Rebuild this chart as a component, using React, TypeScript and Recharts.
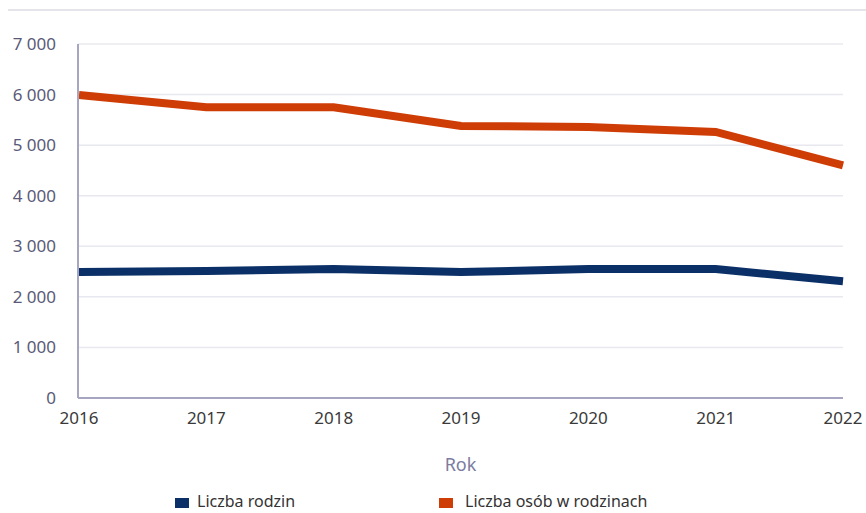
import React from 'react';
import { LineChart, Line, XAxis, YAxis, CartesianGrid, Legend } from 'recharts';

const years = ['2016', '2017', '2018', '2019', '2020', '2021', '2022'];
const liczbaRodzin = [2490, 2510, 2550, 2490, 2550, 2550, 2310];
const liczbaOsob = [5990, 5750, 5750, 5380, 5360, 5260, 4600];
const yTicks = [0, 1000, 2000, 3000, 4000, 5000, 6000, 7000];

const seriesNames = { rodziny: 'Liczba rodzin', osoby: 'Liczba osób w rodzinach' };
const colors = { rodziny: '#0b3067', osoby: '#cf3d06' };

const data = years.map((y, i) => ({ year: y, rodziny: liczbaRodzin[i], osoby: liczbaOsob[i] }));

const fmt = (v: number) => String(v).replace(/\B(?=(\d{3})+(?!\d))/g, ' ');
const FONT = '"Noto Sans", "Open Sans", sans-serif';

const LegendContent = () => (
  <div style={{ position: 'relative', width: 866, height: 30, fontFamily: FONT, fontSize: 16, color: '#333' }}>
    <div style={{ position: 'absolute', left: 175, top: 15, width: 14, height: 10, background: colors.rodziny }} />
    <div style={{ position: 'absolute', left: 197, top: 8, lineHeight: '20px', whiteSpace: 'nowrap' }}>{seriesNames.rodziny}</div>
    <div style={{ position: 'absolute', left: 439, top: 15, width: 14, height: 10, background: colors.osoby }} />
    <div style={{ position: 'absolute', left: 465, top: 8, lineHeight: '20px', whiteSpace: 'nowrap' }}>{seriesNames.osoby}</div>
  </div>
);

export default function App() {
  return (
    <div style={{ position: 'absolute', left: 0, top: 0, width: 866, height: 513, background: '#fff', overflow: 'hidden' }}>
      <div style={{ position: 'absolute', left: 8, right: 0, top: 9, height: 2, background: '#e4e4ea' }} />
      <LineChart width={866} height={513} data={data} margin={{ top: 44, right: 23, bottom: 5, left: 0 }}>
        <CartesianGrid vertical={false} stroke="#e8e8ef" strokeWidth={1.5} />
        <XAxis
          dataKey="year"
          height={80}
          tickLine={false}
          axisLine={{ stroke: '#a6a6c2', strokeWidth: 2 }}
          tick={{ fill: '#3a3a3a', fontSize: 17, fontFamily: FONT }}
          tickMargin={8}
          interval={0}
          padding={{ left: 1, right: 0 }}
          label={{ value: 'Rok', position: 'insideBottom', offset: 7, fill: '#7c7ca0', fontSize: 18, fontFamily: FONT }}
        />
        <YAxis
          width={78}
          domain={[0, 7000]}
          ticks={yTicks}
          tickFormatter={fmt}
          tickLine={false}
          axisLine={{ stroke: '#a6a6c2', strokeWidth: 2 }}
          tick={{ fill: '#5a5a78', fontSize: 17, fontFamily: FONT }}
          tickMargin={16}
        />
        <Legend verticalAlign="bottom" height={30} content={<LegendContent />} wrapperStyle={{ left: 0, bottom: 0, width: 866 }} />
        <Line type="linear" dataKey="rodziny" name={seriesNames.rodziny} stroke={colors.rodziny} strokeWidth={8} dot={false} isAnimationActive={false} />
        <Line type="linear" dataKey="osoby" name={seriesNames.osoby} stroke={colors.osoby} strokeWidth={8} dot={false} isAnimationActive={false} />
      </LineChart>
    </div>
  );
}
